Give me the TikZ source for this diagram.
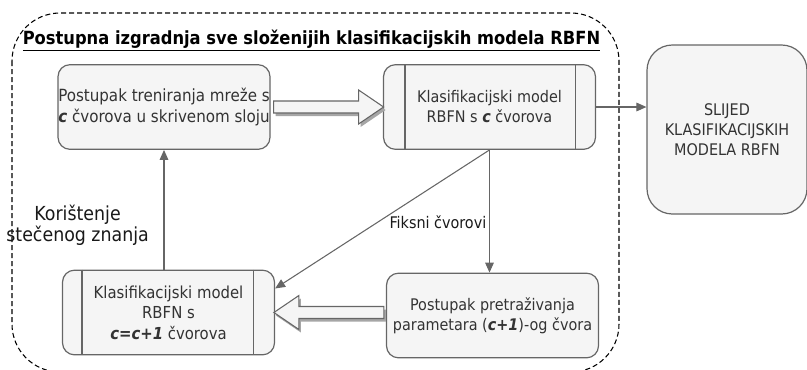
\documentclass[tikz,border=0pt]{standalone}
\usepackage{fontspec}
\setmainfont{DejaVu Sans Condensed}
\usetikzlibrary{arrows.meta,shadows}

\definecolor{boxfill}{HTML}{F5F5F5}
\definecolor{boxline}{HTML}{666666}
\definecolor{boxtext}{HTML}{333333}

\tikzset{
  stepbox/.style={draw=boxline, fill=boxfill, rounded corners=9pt, line width=0.9pt,
    text=boxtext, align=center, font=\fontsize{12}{15}\selectfont,
    minimum width=159pt, minimum height=63.5pt, inner sep=0pt},
  flowline/.style={draw=boxline, line width=0.8pt, -{Triangle[length=7.5pt,width=6.5pt]}},
  bigarrow/.style={draw=boxline, fill=boxfill, line width=0.8pt, line join=miter,
    drop shadow={shadow xshift=1.5pt, shadow yshift=-2.25pt, fill=black!35, opacity=1}},
  edgelabel/.style={text=black!90, align=center, font=\fontsize{12}{15}\selectfont, inner sep=0pt}
}
\newcommand{\cc}[1]{\textbf{\textit{#1}}}

\begin{document}
\begin{tikzpicture}[x=0.75pt,y=0.75pt,yscale=-1,xscale=1]
        \useasboundingbox (0,0) rectangle (807,369);
        \clip (0,0) rectangle (807,369);

        %Shape: Rounded Rectangle [outer frame]
        \draw [dash pattern={on 3.75pt off 2.25pt}, line width=0.8pt, rounded corners=36pt] (12,13) rectangle (619,372) ;

        % Text Node
        \node (title) at (311.5,41) [inner sep=0pt, font=\fontsize{13.6}{16}\selectfont\bfseries] {\underline{Postupna izgradnja sve složenijih klasifikacijskih modela RBFN}};

        %Shape: Rounded Rectangle [training]
        \node (train) at (164,107) [stepbox, font=\fontsize{12.6}{15.5}\selectfont] {Postupak treniranja mreže s\\\cc{c} čvorova u skrivenom sloju};
        %Shape: Process [model c]
        \node (model) at (489.5,107) [stepbox] {Klasifikacijski model\\RBFN s \cc{c} čvorova};
        \draw [boxline, line width=0.9pt] ([xshift=16.5pt]model.north west) -- ([xshift=16.5pt]model.south west) ;
        \draw [boxline, line width=0.9pt] ([xshift=-15.75pt]model.north east) -- ([xshift=-15.75pt]model.south east) ;
        %Shape: Rounded Rectangle [sequence]
        \node (seq) at (727,129.5) [stepbox, rounded corners=19pt, minimum width=120pt, minimum height=126.75pt] {SLIJED\\KLASIFIKACIJSKIH\\MODELA RBFN};
        %Shape: Rounded Rectangle [search]
        \node (search) at (492.5,315.5) [stepbox] {Postupak pretraživanja\\parametara (\cc{c+1})-og čvora};
        %Shape: Process [model c+1]
        \node (next) at (168.5,312.5) [stepbox, font=\fontsize{12.4}{15.5}\selectfont] {Klasifikacijski model\\RBFN s\\\cc{c=c+1} čvorova};
        \draw [boxline, line width=0.9pt] ([xshift=15pt]next.north west) -- ([xshift=15pt]next.south west) ;
        \draw [boxline, line width=0.9pt] ([xshift=-16.5pt]next.north east) -- ([xshift=-16.5pt]next.south east) ;

        %Shape: Block Arrow [training -> model]
        \draw [bigarrow] ([xshift=2.25pt]train.east) ++(0,-6) -- ++(85,0) -- ++(0,-11) -- ++(25,17) -- ++(-25,17) -- ++(0,-11) -- ++(-85,0) -- cycle ;
        %Shape: Block Arrow [search -> next]
        \draw [bigarrow] ([xshift=-1.5pt]search.west |- next.east) ++(0,-6) -- ++(-85,0) -- ++(0,-11) -- ++(-25,17) -- ++(25,17) -- ++(0,-11) -- ++(85,0) -- cycle ;

        %Straight Lines [connectors]
        \draw [flowline] (model.east) -- (seq.west |- model.east) ;
        \draw [flowline] (model.south) -- (search.north -| model.south) node [edgelabel, pos=0.59, anchor=east, xshift=-2pt] {Fiksni čvorovi} ;
        \draw [flowline] (model.south) -- ([yshift=-18pt]next.east) ;
        \draw [flowline] (next.north -| train.south) -- (train.south) node [edgelabel, pos=0.37, anchor=east, xshift=-11pt, font=\fontsize{14.5}{16}\selectfont] {Korištenje\\stečenog znanja} ;
\end{tikzpicture}
\end{document}
